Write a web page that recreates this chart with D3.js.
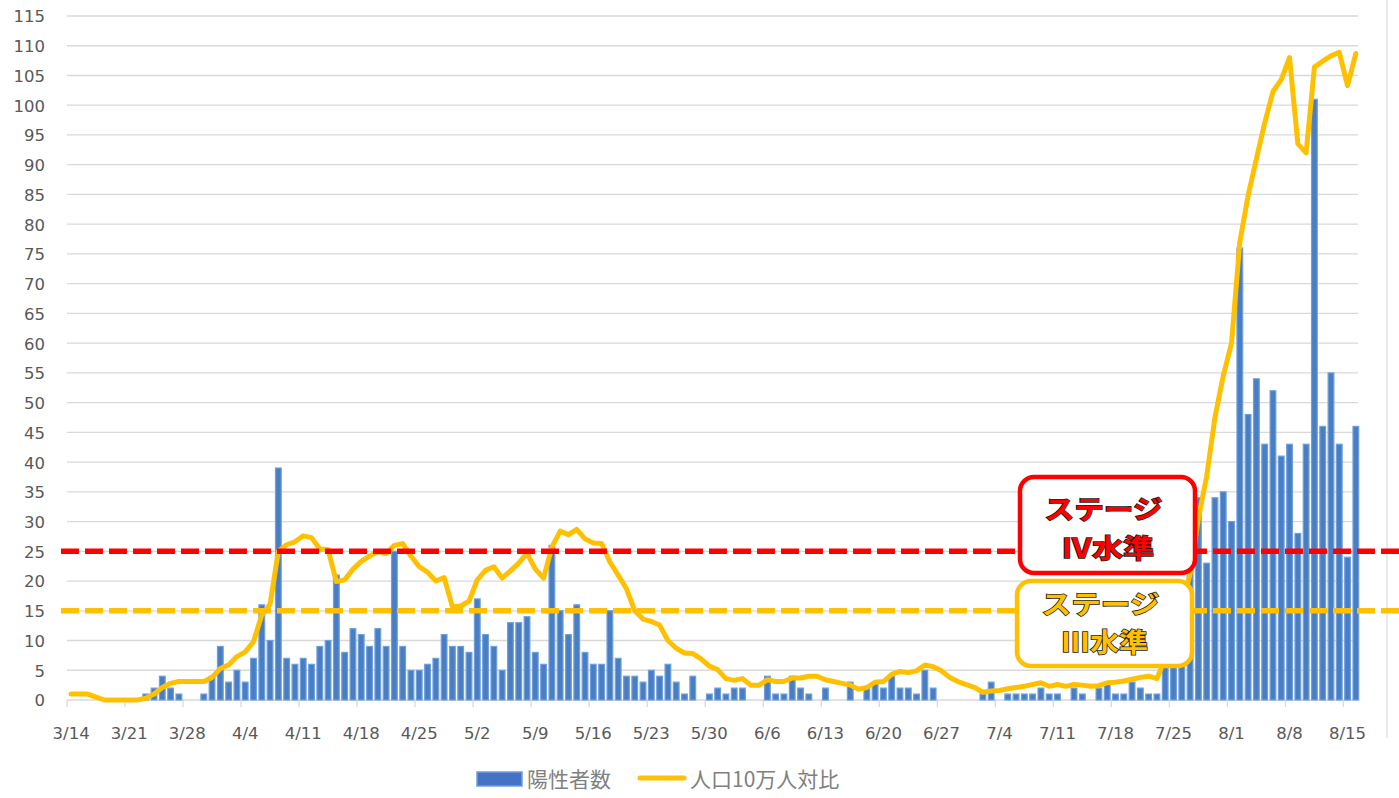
<!DOCTYPE html>
<html>
<head>
<meta charset="utf-8">
<script src="https://cdn.jsdelivr.net/npm/d3@7"></script>
<style>
  body { margin: 0; background: #fff; }
  svg { display: block; }
  .tick-label { font-family: "DejaVu Sans", sans-serif; font-size: 16.5px; fill: #595959; }
  .legend-text { font-family: "Noto Sans CJK JP", sans-serif; font-size: 21px; fill: #808080; }
  .stage-text { font-family: "Noto Sans CJK JP", sans-serif; font-size: 26px; font-weight: 700;
                paint-order: stroke; stroke: #1a1a1a; stroke-width: 1.5px; }
</style>
</head>
<body>
<div id="chart"></div>
<script>
// daily positives, 3/14 .. 8/16
var positives = [
  0, 0, 0, 0, 0, 0, 0, 0, 0, 1,
  2, 4, 2, 1, 0, 0, 1, 4, 9, 3,
  5, 3, 7, 16, 10, 39, 7, 6, 7, 6,
  9, 10, 21, 8, 12, 11, 9, 12, 9, 25,
  9, 5, 5, 6, 7, 11, 9, 9, 8, 17,
  11, 9, 5, 13, 13, 14, 8, 6, 26, 15,
  11, 16, 8, 6, 6, 15, 7, 4, 4, 3,
  5, 4, 6, 3, 1, 4, 0, 1, 2, 1,
  2, 2, 0, 0, 4, 1, 1, 4, 2, 1,
  0, 2, 0, 0, 3, 0, 2, 3, 2, 4,
  2, 2, 1, 5, 2, 0, 0, 0, 0, 0,
  1, 3, 0, 1, 1, 1, 1, 2, 1, 1,
  0, 2, 1, 0, 2, 3, 1, 1, 3, 2,
  1, 1, 12, 12, 20, 22, 34, 23, 34, 35,
  30, 76, 48, 54, 43, 52, 41, 43, 28, 43,
  101, 46, 55, 43, 24, 46
]

// per 100k population (7 day)
var per100k = [
  1.0, 1.0, 1.0, 0.5, 0.0, 0.0, 0.0, 0.0, 0.0, 0.3,
  1.0, 2.1, 2.8, 3.1, 3.1, 3.1, 3.1, 3.8, 5.3, 5.9,
  7.3, 8.1, 9.8, 14.3, 16.1, 25.0, 26.1, 26.6, 27.6, 27.3,
  25.4, 25.3, 19.9, 20.2, 22.0, 23.3, 24.2, 25.0, 24.6, 26.0,
  26.3, 24.2, 22.4, 21.5, 20.0, 20.6, 15.7, 15.8, 16.6, 20.2,
  21.8, 22.4, 20.5, 21.7, 23.0, 24.7, 22.0, 20.5, 25.7, 28.4,
  27.8, 28.7, 27.1, 26.4, 26.3, 23.2, 21.0, 18.7, 15.0, 13.6,
  13.2, 12.6, 10.0, 8.7, 7.9, 7.8, 6.9, 5.7, 5.1, 3.6,
  3.3, 3.6, 2.5, 2.5, 3.4, 3.1, 3.1, 3.7, 3.7, 4.0,
  4.0, 3.4, 3.1, 2.8, 2.5, 1.8, 2.1, 3.0, 3.1, 4.3,
  4.8, 4.6, 4.9, 5.9, 5.6, 4.9, 3.8, 3.1, 2.6, 2.1,
  1.3, 1.5, 1.6, 1.9, 2.1, 2.3, 2.6, 2.9, 2.3, 2.6,
  2.3, 2.6, 2.5, 2.3, 2.4, 2.9, 3.0, 3.2, 3.5, 3.8,
  4.0, 3.6, 7.0, 9.7, 15.5, 21.2, 30.5, 37.6, 47.5, 54.5,
  60.0, 77.0, 84.8, 91.0, 97.0, 102.3, 104.3, 108.0, 93.5, 92.0,
  106.4, 107.4, 108.3, 108.9, 103.3, 108.7
]

var tickLabels = ["3/14", "3/21", "3/28", "4/4", "4/11", "4/18", "4/25", "5/2", "5/9", "5/16",
  "5/23", "5/30", "6/6", "6/13", "6/20", "6/27", "7/4", "7/11", "7/18", "7/25", "8/1", "8/8", "8/15"]

var yTicks = d3.range(0, 116, 5)

// threshold lines
var stages = [
  { value: 25, color: "#FF0000", label: "Ⅳ水準" },
  { value: 15, color: "#FFC000", label: "Ⅲ水準" }
]

var legendItems = ["陽性者数", "人口10万人対比"]

var width = 1399, height = 798
var margin = { top: 16, right: 39, bottom: 98, left: 67 }

var svg = d3.select("#chart").append("svg")
  .attr("width", width)
  .attr("height", height)

var days = d3.range(positives.length)

var x = d3.scaleBand()
  .domain(days)
  .range([margin.left, width - margin.right])
  .paddingInner(0.31)
  .paddingOuter(0.155)

var y = d3.scaleLinear()
  .domain([0, 115])
  .range([height - margin.bottom, margin.top])

var step = x.step()
var cx = function(i) { return x(i) + x.bandwidth() / 2 }

// gridlines
svg.append("g")
  .selectAll("line")
  .data(yTicks.filter(function(d) { return d > 0 }))
  .enter().append("line")
  .attr("x1", margin.left)
  .attr("x2", width - margin.right - 2)
  .attr("y1", function(d) { return y(d) })
  .attr("y2", function(d) { return y(d) })
  .attr("stroke", "#d9d9d9")
  .attr("stroke-width", 1.3)

// chart area right border
svg.append("line")
  .attr("x1", 1387).attr("x2", 1387)
  .attr("y1", 0).attr("y2", height - 60)
  .attr("stroke", "#e3e3e3")
  .attr("stroke-width", 1.5)

// y axis labels
var yAxis = d3.axisLeft(y).tickValues(yTicks).tickSize(0).tickPadding(0)
var gy = svg.append("g")
  .attr("transform", "translate(45,0)")
  .call(yAxis)
gy.select(".domain").remove()
gy.selectAll("text").attr("class", "tick-label").attr("dy", "0.36em")

// x axis baseline + ticks at category boundaries
svg.append("line")
  .attr("x1", margin.left)
  .attr("x2", width - margin.right - 2)
  .attr("y1", y(0)).attr("y2", y(0))
  .attr("stroke", "#d9d9d9")
  .attr("stroke-width", 1.3)

svg.append("g")
  .selectAll("line")
  .data(d3.range(0, positives.length + 1, 7))
  .enter().append("line")
  .attr("x1", function(i) { return cx(i) - step / 2 })
  .attr("x2", function(i) { return cx(i) - step / 2 })
  .attr("y1", y(0))
  .attr("y2", y(0) + 7)
  .attr("stroke", "#d9d9d9")
  .attr("stroke-width", 1.3)

svg.append("g")
  .selectAll("text")
  .data(tickLabels)
  .enter().append("text")
  .attr("class", "tick-label")
  .attr("x", function(d, k) { return cx(k * 7) })
  .attr("y", y(0) + 39)
  .attr("text-anchor", "middle")
  .text(function(d) { return d })

// bars
svg.append("g")
  .selectAll("rect")
  .data(days.filter(function(i) { return positives[i] > 0 }))
  .enter().append("rect")
  .attr("x", function(i) { return x(i) })
  .attr("width", x.bandwidth())
  .attr("y", function(i) { return y(positives[i]) })
  .attr("height", function(i) { return y(0) - y(positives[i]) })
  .attr("fill", "#4a7ec4")
  .attr("stroke", "#6fa0da")
  .attr("stroke-width", 1.2)

// per 100k line
var line = d3.line()
  .x(function(d, i) { return cx(i) })
  .y(function(d) { return y(d) })

svg.append("path")
  .datum(per100k)
  .attr("d", line)
  .attr("fill", "none")
  .attr("stroke", "#FFC000")
  .attr("stroke-width", 5)
  .attr("stroke-linejoin", "round")
  .attr("stroke-linecap", "round")

// stage lines
svg.append("g")
  .selectAll("line")
  .data(stages)
  .enter().append("line")
  .attr("x1", 61)
  .attr("x2", 1399)
  .attr("y1", function(d) { return y(d.value) })
  .attr("y2", function(d) { return y(d.value) })
  .attr("stroke", function(d) { return d.color })
  .attr("stroke-width", 5.5)
  .attr("stroke-dasharray", "18,6")

// stage boxes (call-outs)
var boxes = [
  { x: 1020, y: 477, w: 175, h: 96, b1: 519, b2: 558, w2: 93 },
  { x: 1017, y: 581, w: 175, h: 85, b1: 614, b2: 652, w2: 87 }
]
stages.forEach(function(s, k) {
  var b = boxes[k]
  svg.append("rect")
    .attr("x", b.x).attr("y", b.y)
    .attr("width", b.w).attr("height", b.h)
    .attr("rx", 14)
    .attr("fill", "#fff")
    .attr("stroke", s.color)
    .attr("stroke-width", 4.5)
  svg.append("text")
    .attr("class", "stage-text")
    .attr("x", b.x + b.w / 2 - 4)
    .attr("y", b.b1)
    .attr("text-anchor", "middle")
    .attr("textLength", 118)
    .attr("lengthAdjust", "spacingAndGlyphs")
    .attr("fill", s.color)
    .text("ステージ")
  svg.append("text")
    .attr("class", "stage-text")
    .attr("x", b.x + b.w / 2)
    .attr("y", b.b2)
    .attr("text-anchor", "middle")
    .attr("textLength", b.w2)
    .attr("lengthAdjust", "spacingAndGlyphs")
    .attr("fill", s.color)
    .text(s.label)
})

// legend
var lg = svg.append("g")
lg.append("rect")
  .attr("x", 477).attr("y", 772)
  .attr("width", 45).attr("height", 14)
  .attr("fill", "#4472c4")
  .attr("stroke", "#6fa0da")
  .attr("stroke-width", 1.5)
lg.append("text")
  .attr("class", "legend-text")
  .attr("x", 527).attr("y", 779).attr("dy", "0.36em")
  .text(legendItems[0])
lg.append("line")
  .attr("x1", 640).attr("x2", 684)
  .attr("y1", 778).attr("y2", 778)
  .attr("stroke", "#FFC000")
  .attr("stroke-width", 5)
  .attr("stroke-linecap", "round")
lg.append("text")
  .attr("class", "legend-text")
  .attr("x", 690).attr("y", 779).attr("dy", "0.36em")
  .text(legendItems[1])
</script>
</body>
</html>
